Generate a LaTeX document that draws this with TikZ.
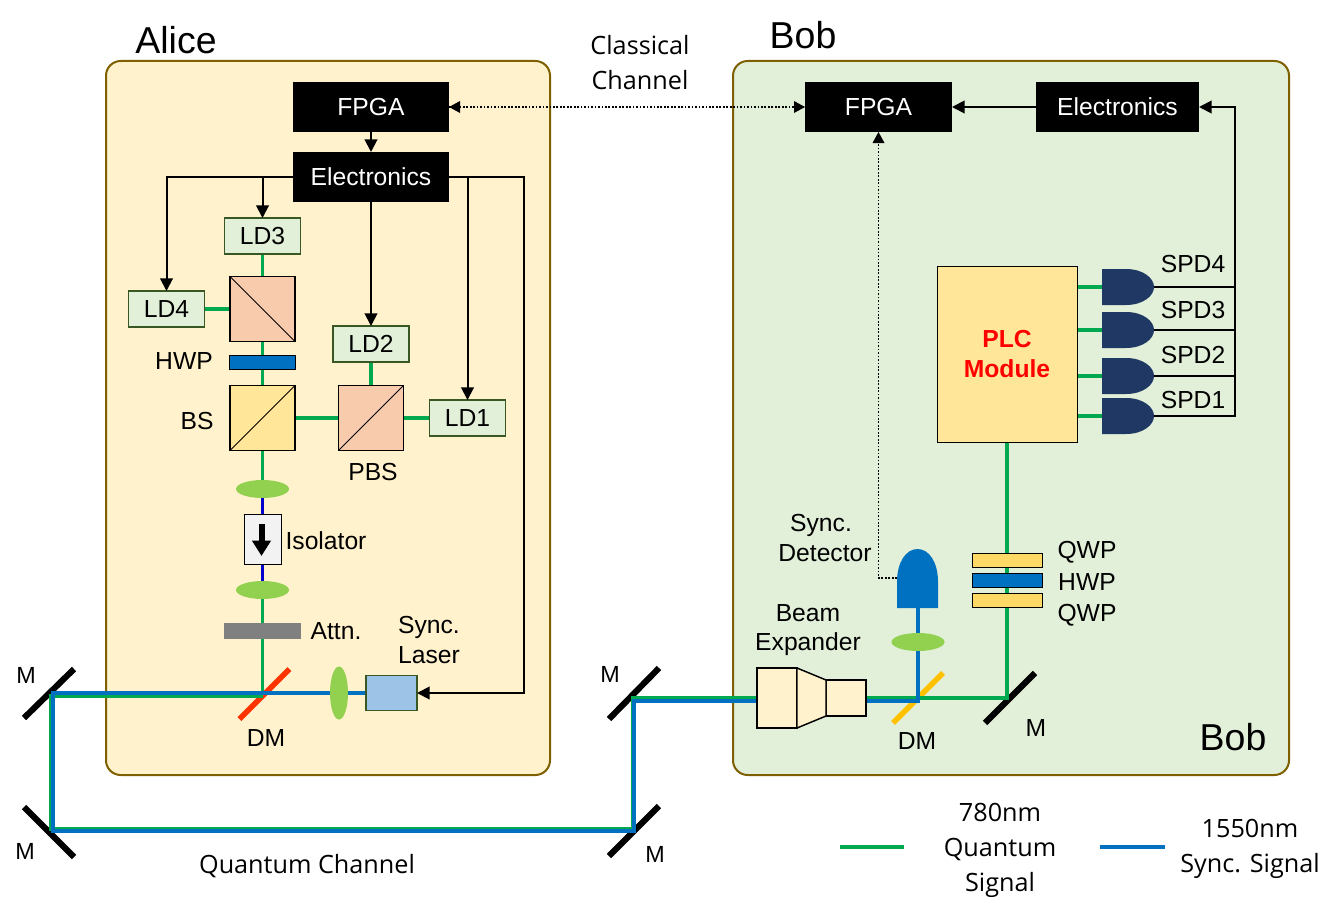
\documentclass[tikz,border=0pt]{standalone}
\usepackage{fontspec}
\setmainfont{Liberation Sans}
\newfontfamily\chanfont{Open Sans}
\usetikzlibrary{arrows.meta,calc,backgrounds,shapes.geometric}
\definecolor{alicebg}{HTML}{FFF2CC}
\definecolor{bobbg}{HTML}{E2F0D9}
\definecolor{panelline}{HTML}{7F6000}
\definecolor{ldline}{HTML}{385723}
\definecolor{qgreen}{HTML}{00A850}
\definecolor{sblue}{HTML}{0070C0}
\definecolor{deepblue}{HTML}{0000CC}
\definecolor{lensgreen}{HTML}{92D050}
\definecolor{cubeorange}{HTML}{F8CBAD}
\definecolor{cubeyellow}{HTML}{FFE699}
\definecolor{plateyellow}{HTML}{FFD966}
\definecolor{spdnavy}{HTML}{203864}
\definecolor{laserblue}{HTML}{9DC3E6}
\definecolor{dmred}{HTML}{FF3300}
\definecolor{dmyellow}{HTML}{FFC000}
\tikzset{
    sized/.style 2 args={minimum width=#1*.75pt,minimum height=#2*.75pt,inner sep=0pt,outer sep=0pt},
    panel/.style 2 args={sized={#1}{#2},rounded corners=11pt,draw=panelline,line width=1.5pt},
    blackbox/.style 2 args={sized={#1}{#2},fill=black,text=white,font=\fontsize{18.5}{22}\selectfont},
    ldbox/.style={sized={76}{36},fill=bobbg,draw=ldline,line width=.8pt,font=\fontsize{18.5}{22}\selectfont},
    cube/.style={sized={65}{65},draw=black,line width=.8pt,fill=#1},
    plate/.style 2 args={sized={#1}{14},draw=black,line width=.7pt,fill=#2},
    lens/.style 2 args={ellipse,sized={#1}{#2},fill=lensgreen},
    txt/.style={inner sep=0pt,align=center,font=\fontsize{18.5}{22}\selectfont},
    chantxt/.style={inner sep=0pt,align=center,font=\chanfont\fontsize{18.9}{26.2}\selectfont},
    titletxt/.style={inner sep=0pt,font=\fontsize{28.1}{30}\selectfont},
    ctrl/.style={line width=1.5pt,-{Triangle[length=9.5pt,width=9.5pt]}},
    ctrlplain/.style={line width=1.5pt},
    dots/.style={line width=1.3pt,dash pattern=on 1.3pt off 1.3pt},
    qbeam/.style={draw=qgreen,line width=2.8pt},
    qthin/.style={draw=qgreen,line width=2.5pt},
    sbeam/.style={draw=sblue,line width=2.4pt},
    mirror/.style={draw=black,line width=4.6pt},
    dichroic/.style={draw=#1,line width=4.2pt},
    spdshape/.pic={\fill[spdnavy] (0,-18) -- (24,-18) .. controls (41,-18) and (52,-9) .. (52,0)
        .. controls (52,9) and (41,18) .. (24,18) -- (0,18) -- cycle;},
}
\begin{document}
\begin{tikzpicture}[x=.75pt,y=-.75pt]
  \useasboundingbox (0,0) rectangle (1337,917);

  %ALICE
  \node[blackbox={156}{50}] (fpgaA) at (371,107) {FPGA};
  \node[blackbox={156}{50}] (elecA) at (371,177) {Electronics};
  \node[ldbox] (ld3) at (262.5,236) {LD3};
  \node[ldbox] (ld4) at (166.5,309) {LD4};
  \node[ldbox] (ld2) at (371,344) {LD2};
  \node[ldbox] (ld1) at (467.5,418) {LD1};
  \node[cube=cubeorange] (pbsB) at (262.5,309) {};
  \draw[line width=.7pt] (pbsB.north west) -- (pbsB.south east);
  \node[plate={66}{sblue}] (hwpA) at (262.5,362) {};
  \node[cube=cubeyellow] (bs) at (262.5,418) {};
  \draw[line width=.7pt] (bs.south west) -- (bs.north east);
  \node[cube=cubeorange] (pbsA) at (371,418) {};
  \draw[line width=.7pt] (pbsA.south west) -- (pbsA.north east);
  \node[lens={53}{18}] (lensA) at (262.5,489) {};
  \node[sized={37}{50},fill=black!5,draw=black,line width=.7pt] (iso) at (262.5,539) {};
  \draw[line width=4.5pt,-{Triangle[length=11.5pt,width=13.5pt]}] ($(iso)+(-1,-15)$) -- ($(iso)+(-1,17)$);
  \node[lens={53}{18}] (lensB) at (262.5,590) {};
  \node[sized={77}{16},fill=black!50] (attn) at (262.5,631) {};
  \node[lens={18}{53}] (lensC) at (339,693) {};
  \node[sized={51}{35},fill=laserblue,draw=ldline,line width=.8pt] (laser) at (391.5,693) {};

  %BOB
  \node[blackbox={147}{50}] (fpgaB) at (878.5,107) {FPGA};
  \node[blackbox={163}{50}] (elecB) at (1117.5,107) {Electronics};
  \node[sized={140}{176},fill=cubeyellow,draw=black,line width=.7pt,text=red,align=center,
        font=\bfseries\fontsize{18.5}{22.5}\selectfont] (plc) at (1007,354) {PLC\\Module};
  \node[plate={70}{plateyellow}] (qwpA) at (1007,560) {};
  \node[plate={70}{sblue}] (hwpB) at (1007,580) {};
  \node[plate={70}{plateyellow}] (qwpB) at (1007,600) {};
  \node[lens={53}{18}] (lensD) at (918,642) {};
  \fill[sblue] (897,608) -- (897,582) .. controls (897,562) and (906,549) .. (917.5,549)
      .. controls (929,549) and (938,562) .. (938,582) -- (938,608) -- cycle;
  \coordinate (detin) at (918,608);
  \coordinate (detout) at (897,578);
  \node[sized={40}{60},fill=alicebg,draw=black,line width=1.1pt] (expA) at (777,698) {};
  \node[sized={40}{36},fill=alicebg,draw=black,line width=1.1pt] (expB) at (846,698) {};
  \draw[fill=alicebg,line width=1.1pt] (expA.north east) -- (expB.north west) -- (expB.south west) -- (expA.south east) -- cycle;

  %SPD
  \coordinate (spd4) at (1102,287);
  \coordinate (spd3) at (1102,330);
  \coordinate (spd2) at (1102,376);
  \coordinate (spd1) at (1102,416);
  \pic at (spd4) {spdshape};
  \pic at (spd3) {spdshape};
  \pic at (spd2) {spdshape};
  \pic at (spd1) {spdshape};
  \coordinate (bus) at (1235,107);

  %MIRRORS, beam corners
  \coordinate (m1) at (52,694);
  \coordinate (m2) at (52,830);
  \coordinate (m3) at (634,830);
  \coordinate (m4) at (634,700);
  \coordinate (dmA) at (262.5,693);
  \coordinate (dmB) at (918,701);
  \coordinate (mB) at (1007,698);

  \begin{scope}[on background layer]
    \node[panel={444}{714},fill=alicebg] (alice) at (328,418) {};
    \node[panel={556}{714},fill=bobbg] (bob) at (1011,418) {};

    \draw[mirror] ($(m1)+(-28,24)$) -- ($(m1)+(22,-25)$);
    \draw[mirror] ($(m2)+(-28,-23)$) -- ($(m2)+(22,27)$);
    \draw[mirror] ($(m4)+(-25,19)$) -- ($(m4)+(25,-32)$);
    \draw[mirror] ($(m3)+(-25,26)$) -- ($(m3)+(25,-24)$);
    \draw[mirror] ($(mB)+(-22,25)$) -- ($(mB)+(28,-25)$);
    \draw[dichroic=dmred] ($(dmA)+(-23,26)$) -- ($(dmA)+(27,-24)$);
    \draw[dichroic=dmyellow] ($(dmB)+(-25,22)$) -- ($(dmB)+(25,-28)$);

    %beams inside Alice
    \draw[qbeam] (ld3) -- (pbsB);
    \draw[qbeam] (ld4) -- (pbsB);
    \draw[qbeam] (pbsB) -- (hwpA);
    \draw[qbeam] (hwpA) -- (bs);
    \draw[qbeam] (bs) -- (pbsA);
    \draw[qbeam] (pbsA) -- (ld1);
    \draw[qbeam] (pbsA) -- (ld2);
    \draw[qbeam] (bs) -- (lensA);
    \draw[deepblue,line width=2.8pt] (lensA) -- (iso);
    \draw[deepblue,line width=2.8pt] (iso) -- (lensB);
    \draw[qthin] (lensB) -- (dmA);

    %quantum channel, both wavelengths
    \draw[qbeam,line width=2.4pt] ($(dmA)+(0,3)$) -- ($(m1)+(-1,2)$) -- ($(m2)+(-1,-1)$) -- ($(m3)+(-1,-1)$) -- ($(m4)+(-1,-2)$) -- (expA.west);
    \draw[sbeam] (laser) -- (lensC) -- (dmA) -- ($(m1)+(1,-1)$) -- ($(m2)+(1,1)$) -- ($(m3)+(0,1)$) -- ($(m4)+(0,1)$) -- ($(expA.west)+(0,3)$);

    %beams inside Bob
    \draw[qthin] (expB.east) -- (mB) -- (qwpB);
    \draw[qthin] (qwpB) -- (plc);
    \draw[sbeam] ($(expB.east)+(0,3)$) -- (dmB) -- (lensD);
    \draw[sbeam] (lensD) -- (detin);
    \draw[qthin] (plc.east |- spd4) -- (spd4);
    \draw[qthin] (plc.east |- spd3) -- (spd3);
    \draw[qthin] (plc.east |- spd2) -- (spd2);
    \draw[qthin] (plc.east |- spd1) -- (spd1);
  \end{scope}

  %CONTROL LINES
  \draw[ctrl] (fpgaA) -- (elecA);
  \draw[ctrl] (elecA.west) -| (ld4.north);
  \coordinate (tap3) at (262.5,177);
  \draw[ctrl] (tap3) -- (ld3.north);
  \draw[ctrl] (elecA) -- (ld2.north);
  \coordinate (tap1) at (467.5,177);
  \draw[ctrl] (tap1) -- (ld1.north);
  \coordinate (railA) at (524,177);
  \draw[ctrl] (elecA.east) -- (railA) |- (laser.east);
  \draw[dots] (fpgaA.east) -- (fpgaB.west);
  \fill (fpgaA.east) -- ++(11,-6) -- ++(0,12) -- cycle;
  \fill (fpgaB.west) -- ++(-11,-6) -- ++(0,12) -- cycle;
  \draw[dots] (detout) -| (fpgaB.south);
  \fill (fpgaB.south) -- ++(-6,11) -- ++(12,0) -- cycle;
  \draw[ctrl] (elecB) -- (fpgaB);
  \coordinate (spdtip4) at (1154,287);
  \coordinate (spdtip3) at (1154,330);
  \coordinate (spdtip2) at (1154,376);
  \coordinate (spdtip1) at (1154,416);
  \draw[ctrl] (spdtip1) -| (bus) -- (elecB.east);
  \draw[ctrlplain] (spdtip4) -- (spdtip4 -| bus);
  \draw[ctrlplain] (spdtip3) -- (spdtip3 -| bus);
  \draw[ctrlplain] (spdtip2) -- (spdtip2 -| bus);

  %LEGEND
  \coordinate (legq1) at (840,847);
  \coordinate (legq2) at (904,847);
  \coordinate (legs1) at (1100,847);
  \coordinate (legs2) at (1165,847);
  \draw[qgreen,line width=3.4pt] (legq1) -- (legq2);
  \draw[sblue,line width=3.4pt] (legs1) -- (legs2);

  %TEXT
  \node[titletxt] (lblalice) at (176,40) {Alice};
  \node[titletxt] (lblbob) at (803,35) {Bob};
  \node[titletxt] (lblbobin) at (1233,737) {Bob};
  \node[txt] (lblhwpa) at (184,361) {HWP};
  \node[txt] (lblbs) at (197,421) {BS};
  \node[txt] (lblpbs) at (373,472) {PBS};
  \node[txt] (lbliso) at (326,541) {Isolator};
  \node[txt] (lblattn) at (336,631) {Attn.};
  \node[txt] (lbllaser) at (429,640) {Sync.\\Laser};
  \node[txt] (lbldma) at (266,738) {DM};
  \node[txt] (lbldet) at (825,538) {Sync.\kern 6pt\\Detector};
  \node[txt] (lblexp) at (808,630) {Beam\\Expander};
  \node[txt] (lbldmb) at (917,741) {DM};
  \node[txt] (lblmb) at (1036,728) {M};
  \node[txt] (lblqa) at (1087,552) {QWP};
  \node[txt] (lblhb) at (1087,582) {HWP};
  \node[txt] (lblqb) at (1087,615) {QWP};
  \node[txt] (lblspd4) at (1193,264) {SPD4};
  \node[txt] (lblspd3) at (1193,310) {SPD3};
  \node[txt] (lblspd2) at (1193,355) {SPD2};
  \node[txt] (lblspd1) at (1193,400) {SPD1};
  \node[txt,font=\fontsize{17.5}{20}\selectfont] (lblm1) at (26,675) {M};
  \node[txt,font=\fontsize{17.5}{20}\selectfont] (lblm2) at (25,851) {M};
  \node[txt,font=\fontsize{17.5}{20}\selectfont] (lblm4) at (610,674) {M};
  \node[txt,font=\fontsize{17.5}{20}\selectfont] (lblm3) at (655,854) {M};
  \node[chantxt] (lblclass) at (640,63) {Classical\\Channel};
  \node[chantxt] (lblquant) at (307,866) {Quantum Channel};
  \node[chantxt] (lbl780) at (1000,850) {780nm\\Quantum\\Signal};
  \node[chantxt] (lbl1550) at (1250,849) {1550nm\\Sync. Signal};
\end{tikzpicture}
\end{document}
